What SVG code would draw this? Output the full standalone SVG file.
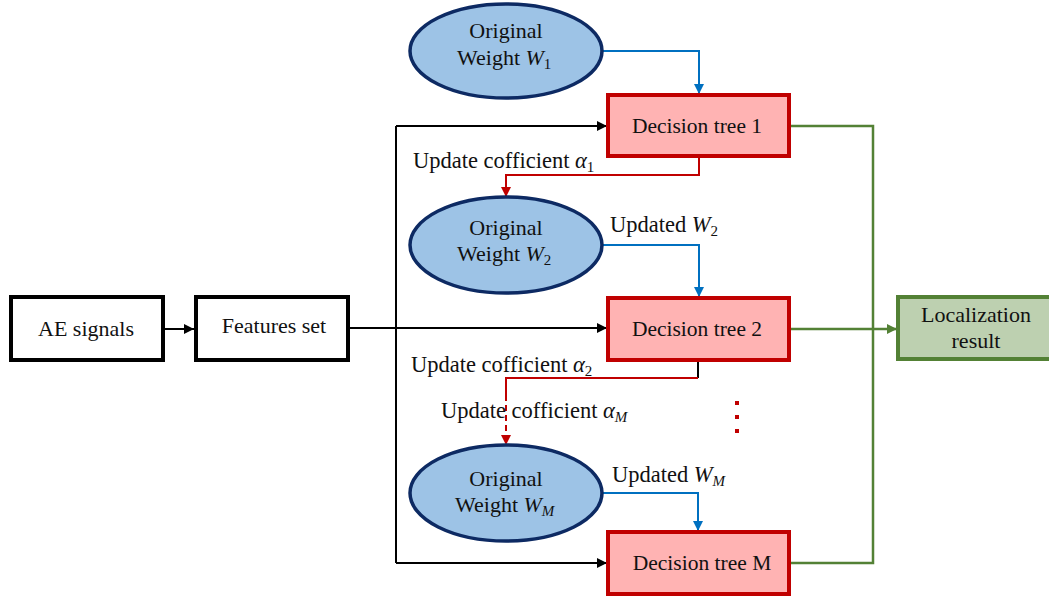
<svg xmlns="http://www.w3.org/2000/svg" width="1049" height="596" viewBox="0 0 1049 596">
<defs>
<marker id="ak" viewBox="0 0 10 10" refX="10" refY="5" markerWidth="10" markerHeight="10" markerUnits="userSpaceOnUse" orient="auto"><path d="M0,0 L10,5 L0,10 z" fill="#000"/></marker>
<marker id="ab" viewBox="0 0 10 10" refX="10" refY="5" markerWidth="10" markerHeight="10" markerUnits="userSpaceOnUse" orient="auto"><path d="M0,0 L10,5 L0,10 z" fill="#0070c0"/></marker>
<marker id="ar" viewBox="0 0 10 10" refX="10" refY="5" markerWidth="10" markerHeight="10" markerUnits="userSpaceOnUse" orient="auto"><path d="M0,0 L10,5 L0,10 z" fill="#c00000"/></marker>
<marker id="ag" viewBox="0 0 10 10" refX="10" refY="5" markerWidth="10" markerHeight="10" markerUnits="userSpaceOnUse" orient="auto"><path d="M0,0 L10,5 L0,10 z" fill="#538135"/></marker>
</defs>
<style>
text{font-family:"Liberation Serif","Times New Roman",serif;font-size:22px;fill:#111}
.c{text-anchor:middle}
.m{font-style:italic}
.s{font-size:15px}
.lb{font-size:22.5px}
.d{font-size:21.5px}
.box{fill:#fff;stroke:#000;stroke-width:4}
.dt{fill:#ffb3b3;stroke:#c00000;stroke-width:4}
.el{fill:#9dc3e6;stroke:#0d2a63;stroke-width:3.5}
.lr{fill:#bdd0b0;stroke:#538135;stroke-width:4}
.k{fill:none;stroke:#000;stroke-width:2}
.b{fill:none;stroke:#0070c0;stroke-width:2}
.r{fill:none;stroke:#c00000;stroke-width:2}
.g{fill:none;stroke:#538135;stroke-width:2.5}
</style>
<g id="connectors">
<path class="k" d="M163,329 H194" marker-end="url(#ak)"/>
<path class="k" d="M349,328 H607" marker-end="url(#ak)"/>
<path class="k" d="M396,126 V563"/>
<path class="k" d="M396,126 H607" marker-end="url(#ak)"/>
<path class="k" d="M396,563 H607" marker-end="url(#ak)"/>
<path class="b" d="M603,51 H699 V94" marker-end="url(#ab)"/>
<path class="b" d="M603,245 H699 V297" marker-end="url(#ab)"/>
<path class="b" d="M603,493 H698 V531" marker-end="url(#ab)"/>
<path class="r" d="M699,157 V175 H506 V197" marker-end="url(#ar)"/>
<path class="k" d="M698,361 V378"/>
<path class="r" d="M698,378 H506 V395"/>
<path class="r" d="M506,395 V445" stroke-dasharray="6,4" marker-end="url(#ar)"/>
<rect x="735" y="401" width="4" height="4" fill="#c00000"/>
<rect x="735" y="415" width="4" height="4" fill="#c00000"/>
<rect x="735" y="429" width="4" height="4" fill="#c00000"/>
<path class="g" d="M790,126 H873 V563 H790"/>
<path class="g" d="M790,329 H897" marker-end="url(#ag)"/>
<text class="lb" x="413" y="168">Update cofficient <tspan class="m">α</tspan><tspan class="s" dy="4">1</tspan></text>
<text class="lb" x="411" y="372">Update cofficient <tspan class="m">α</tspan><tspan class="s" dy="4">2</tspan></text>
<text class="lb" x="441" y="418">Update cofficient <tspan class="m">α</tspan><tspan class="s m" dy="4">M</tspan></text>
<text class="lb" x="610" y="232">Updated <tspan class="m">W</tspan><tspan class="s" dy="4">2</tspan></text>
<text class="lb" x="612" y="482">Updated <tspan class="m">W</tspan><tspan class="s m" dy="4">M</tspan></text>
</g>
<g id="ae"><rect class="box" x="11" y="297" width="152" height="63"/><text class="c" x="86" y="336">AE signals</text></g>
<g id="features"><rect class="box" x="196" y="297" width="152" height="63"/><text class="c" x="274" y="333">Features set</text></g>
<g id="w1"><ellipse class="el" cx="506" cy="51" rx="96" ry="47"/><text class="c" x="506" y="38">Original</text><text x="457" y="65">Weight <tspan class="m">W</tspan><tspan class="s" dy="4">1</tspan></text></g>
<g id="w2"><ellipse class="el" cx="506" cy="245" rx="96" ry="48"/><text class="c" x="506" y="235">Original</text><text x="457" y="261">Weight <tspan class="m">W</tspan><tspan class="s" dy="4">2</tspan></text></g>
<g id="wm"><ellipse class="el" cx="506" cy="493" rx="96" ry="48"/><text class="c" x="506" y="486">Original</text><text x="455" y="512">Weight <tspan class="m">W</tspan><tspan class="s m" dy="4">M</tspan></text></g>
<g id="dt1"><rect class="dt" x="608" y="95" width="181" height="61"/><text class="c d" x="697" y="133">Decision tree 1</text></g>
<g id="dt2"><rect class="dt" x="608" y="298" width="181" height="62"/><text class="c d" x="697" y="336">Decision tree 2</text></g>
<g id="dtm"><rect class="dt" x="608" y="532" width="181" height="62"/><text class="c d" x="702" y="570">Decision tree M</text></g>
<g id="result"><rect class="lr" x="898" y="297" width="155" height="62"/><text class="c" x="976" y="322">Localization</text><text class="c" x="976" y="348">result</text></g>
</svg>
